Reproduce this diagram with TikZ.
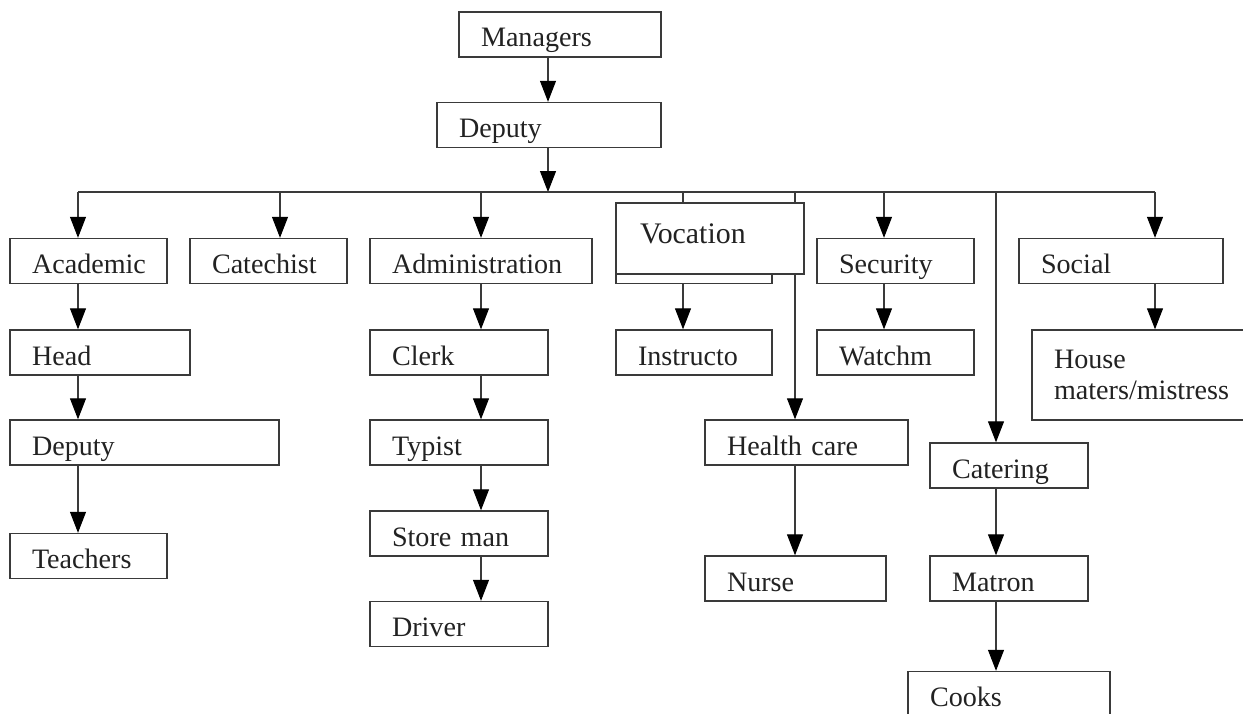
\documentclass[tikz,border=0pt]{standalone}
\usepackage{fontspec}
\setmainfont{Liberation Serif}
\usepackage{tikz}
\usetikzlibrary{arrows.meta}
\definecolor{orgline}{HTML}{3A3A3A}
\definecolor{orgtext}{HTML}{222222}

\begin{document}
\begin{tikzpicture}[x=0.02cm, y=-0.02cm,
  unit/.style={draw=orgline, fill=white, line width=0.8pt,
               minimum height=0.9cm, inner xsep=0.44cm, inner ysep=0.1cm,
               text height=0.5cm, text depth=0pt, align=left,
               font=\fontsize{16}{17.6}\selectfont\color{orgtext}},
  conn/.style={draw=orgline, line width=0.6pt,
               -{Triangle[width=0.32cm,length=0.42cm,color=black]}},
  link/.style={draw=orgline, line width=0.6pt}
]
  \clip (0,0) rectangle (1243,713);
  \fill[white] (0,0) rectangle (1243,713);

  % top of the chart
  \node[unit, text width=3.16cm] (managers) at (560,34.5) {Managers};
  \node[unit, text width=3.60cm] (deputy) at (549,125) {Deputy};

  % departments
  \node[unit, text width=2.26cm] (academic) at (88.5,261) {Academic};
  \node[unit, text width=2.26cm] (catechist) at (268.5,261) {Catechist};
  \node[unit, text width=3.56cm] (admin) at (481,261) {Administration};
  \node[unit, text width=2.24cm] (vocback) at (694,261) {};
  \node[unit, text width=2.26cm] (security) at (895.5,261) {Security};
  \node[unit, text width=3.20cm] (social) at (1121,261) {Social};

  \node[unit, text width=2.72cm] (head) at (100,352.5) {Head};
  \node[unit, text width=2.68cm] (clerk) at (459,352.5) {Clerk};
  \node[unit, text width=2.24cm] (instructo) at (694,352.5) {Instructo};
  \node[unit, text width=2.26cm] (watchm) at (895.5,352.5) {Watchm};
  \node[unit, minimum width=3.98cm, minimum height=1.8cm,
        text height={}, text depth={}] (house) at (1141.5,375)
        {House\\maters/mistress};

  \node[unit, text width=4.50cm] (deputyb) at (144.5,442.5) {Deputy};
  \node[unit, text width=2.68cm] (typist) at (459,442.5) {Typist};
  \node[unit, text width=3.18cm] (health) at (806.5,442.5) {Health care};
  \node[unit, text width=2.28cm] (catering) at (1009,465.5) {Catering};

  \node[unit, text width=2.26cm] (teachers) at (88.5,556) {Teachers};
  \node[unit, text width=2.68cm] (storeman) at (459,533.5) {Store man};
  \node[unit, text width=2.74cm] (nurse) at (795.5,578.5) {Nurse};
  \node[unit, text width=2.28cm] (matron) at (1009,578.5) {Matron};

  \node[unit, text width=2.68cm] (driver) at (459,624) {Driver};
  \node[unit, text width=3.16cm] (cooks) at (1009,694) {Cooks};

  % bus
  \coordinate (hub) at (548,192);
  \coordinate (bAca) at (78,192);
  \coordinate (bCat) at (280,192);
  \coordinate (bAdm) at (481,192);
  \coordinate (bVoc) at (683,192);
  \coordinate (bHea) at (795,192);
  \coordinate (bSec) at (884,192);
  \coordinate (bCtr) at (996,192);
  \coordinate (bSoc) at (1155,192);

  \draw[conn] (hub |- managers.south) -- (hub |- deputy.north);
  \draw[conn] (hub |- deputy.south) -- (hub);
  \draw[link] (bAca) -- (bSoc);

  \draw[conn] (bAca) -- (bAca |- academic.north);
  \draw[conn] (bCat) -- (bCat |- catechist.north);
  \draw[conn] (bAdm) -- (bAdm |- admin.north);
  \draw[link] (bVoc) -- (bVoc |- vocback.north);
  \draw[conn] (bHea) -- (bHea |- health.north);
  \draw[conn] (bSec) -- (bSec |- security.north);
  \draw[conn] (bCtr) -- (bCtr |- catering.north);
  \draw[conn] (bSoc) -- (bSoc |- social.north);

  % chains
  \draw[conn] (bAca |- academic.south) -- (bAca |- head.north);
  \draw[conn] (bAca |- head.south) -- (bAca |- deputyb.north);
  \draw[conn] (bAca |- deputyb.south) -- (bAca |- teachers.north);

  \draw[conn] (bAdm |- admin.south) -- (bAdm |- clerk.north);
  \draw[conn] (bAdm |- clerk.south) -- (bAdm |- typist.north);
  \draw[conn] (bAdm |- typist.south) -- (bAdm |- storeman.north);
  \draw[conn] (bAdm |- storeman.south) -- (bAdm |- driver.north);

  \draw[conn] (bVoc |- vocback.south) -- (bVoc |- instructo.north);
  \draw[conn] (bSec |- security.south) -- (bSec |- watchm.north);
  \draw[conn] (bSoc |- social.south) -- (bSoc |- house.north);
  \draw[conn] (bHea |- health.south) -- (bHea |- nurse.north);
  \draw[conn] (bCtr |- catering.south) -- (bCtr |- matron.north);
  \draw[conn] (bCtr |- matron.south) -- (bCtr |- cooks.north);

  % vocation box lies over the lines
  \node[unit, font=\fontsize{17}{19}\selectfont\color{orgtext},
        text width=2.80cm, inner xsep=0.48cm, minimum height=1.42cm,
        text height=0.18cm] (vocation) at (710,238.5) {Vocation};
\end{tikzpicture}
\end{document}
